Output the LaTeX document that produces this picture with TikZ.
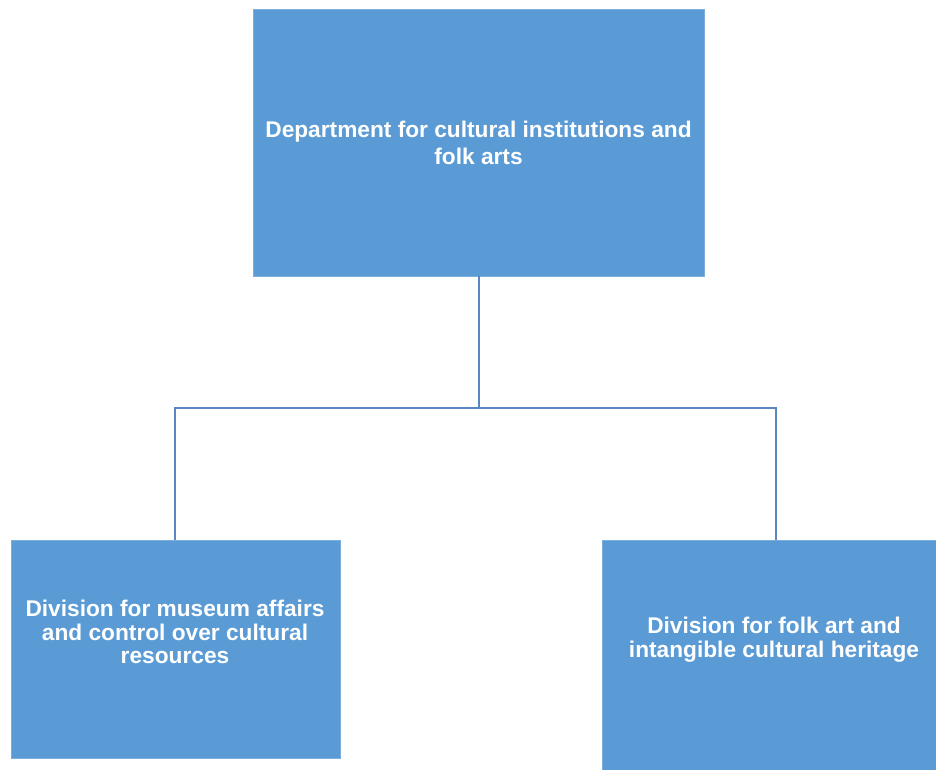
\documentclass[tikz,border=0pt]{standalone}
\usepackage{fontspec}
\setmainfont{Liberation Sans}
\begin{document}
\begin{tikzpicture}[x=1pt,y=-1pt,
  box/.style={draw=boxcol!80!white, line width=0.6pt, fill=boxcol, inner sep=0pt, outer sep=0pt},
  lbl/.style={text=white, font=\fontsize{22.7}{23.8}\selectfont\bfseries, align=center, inner sep=0pt},
  conn/.style={draw=linecol, line width=1.1pt}]
\definecolor{boxcol}{HTML}{5B9BD5}
\definecolor{linecol}{HTML}{5A87C0}
\useasboundingbox (0,0) rectangle (936,769);
\fill[white] (0,0) rectangle (936,769);
% boxes
\node[box, minimum width=451pt, minimum height=267pt] (top) at (478.5,142.5) {};
\node[box, minimum width=329pt, minimum height=218pt] (left) at (175.5,649) {};
\node[box, minimum width=336pt, minimum height=231pt] (right) at (770,655.5) {};
% texts
\node[lbl, font=\fontsize{22.7}{27}\selectfont\bfseries] (ttop) at (478.5,143) {Department for cultural institutions and\\folk arts};
\node[lbl] (tleft) at (175,632) {Division for museum affairs\\and control over cultural\\resources};
\node[lbl] (tright) at (774,640) {Division for folk art and\\intangible cultural heritage};
% connectors
\coordinate (mid) at (479,408);
\draw[conn] (top.south -| mid) -- (mid);
\draw[conn] (mid) -| (left.north -| 175,0);
\draw[conn] (mid) -| (right.north -| 776,0);
\end{tikzpicture}
\end{document}
